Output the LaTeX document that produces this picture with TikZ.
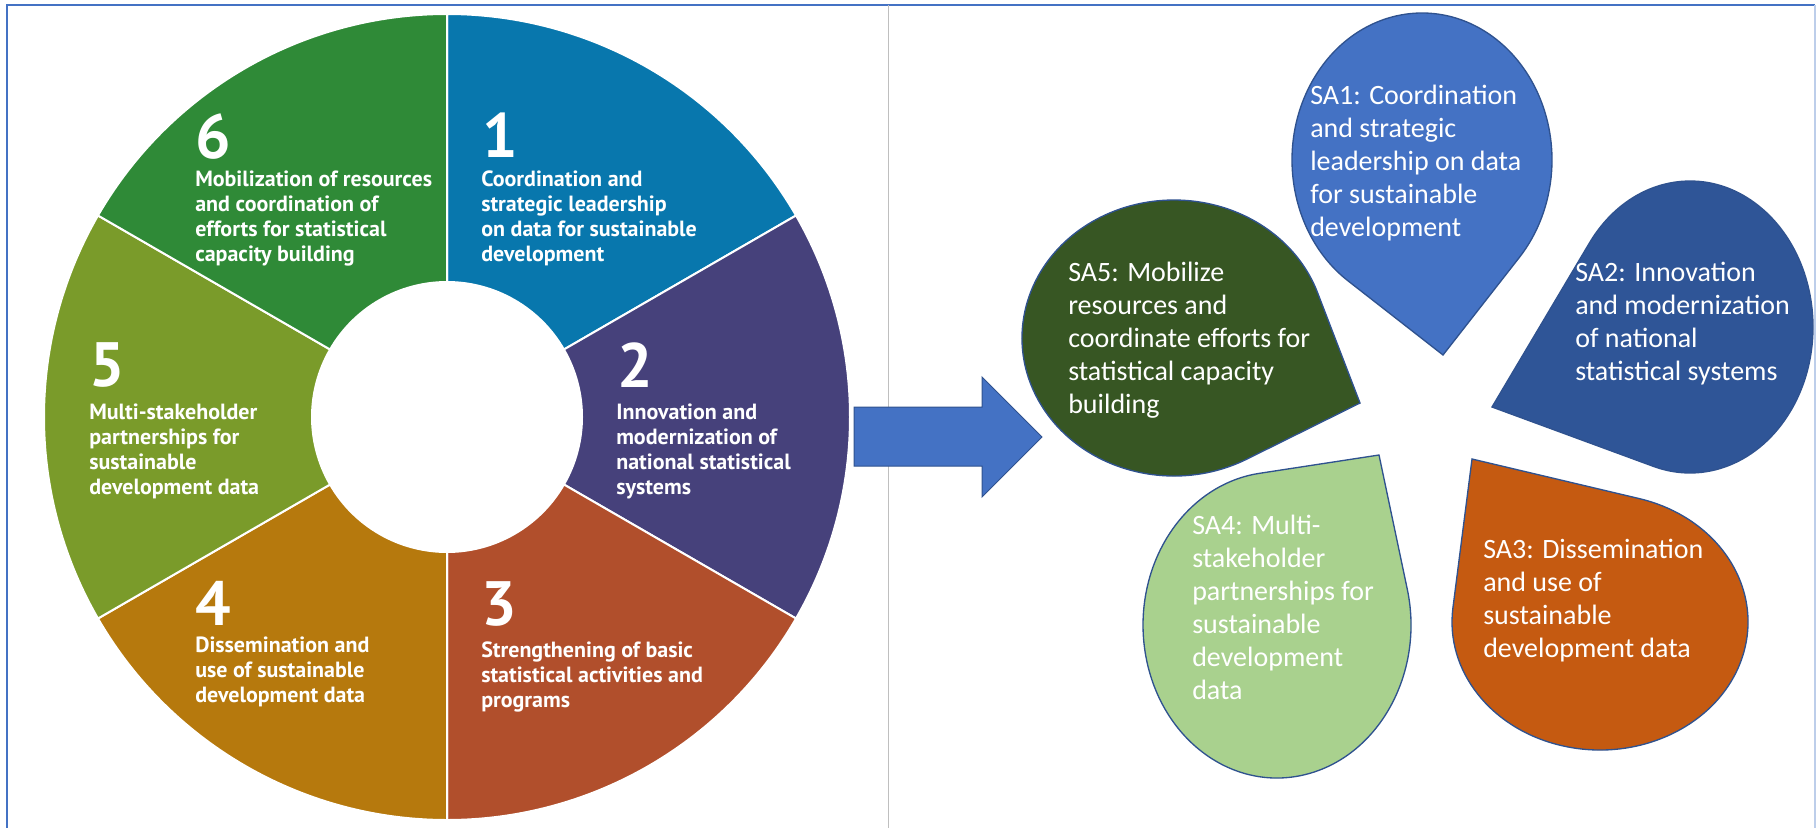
\documentclass[tikz,border=0pt]{standalone}
\usepackage{fontspec}
\setmainfont{Carlito}
\newfontfamily\ringfont{PT Sans}

\definecolor{seg1}{RGB}{8,119,173}
\definecolor{seg2}{RGB}{70,65,123}
\definecolor{seg3}{RGB}{177,79,44}
\definecolor{seg4}{RGB}{182,121,13}
\definecolor{seg5}{RGB}{122,155,42}
\definecolor{seg6}{RGB}{47,138,55}
\definecolor{sa1}{RGB}{68,114,196}
\definecolor{sa2}{RGB}{47,85,151}
\definecolor{sa3}{RGB}{197,90,17}
\definecolor{sa4}{RGB}{169,209,142}
\definecolor{sa5}{RGB}{55,86,35}
\definecolor{edge}{RGB}{47,82,143}
\definecolor{frame}{RGB}{68,114,196}

\begin{document}
\begin{tikzpicture}[x=0.75pt, y=-0.75pt,
    segnum/.style={anchor=north west, inner sep=0pt, text=white, font=\ringfont\bfseries\fontsize{47}{47}\selectfont},
    segtext/.style={anchor=north west, inner sep=0pt, text=white, align=left, font=\ringfont\bfseries\fontsize{16.5}{18.75}\selectfont},
    satext/.style={anchor=north west, inner sep=0pt, text=white, align=left, font=\fontsize{21}{24.75}\selectfont}]
  \useasboundingbox (0,0) rectangle (1817,828);
  % frame and divider
  \draw[frame, line width=1.5pt] (7,828) -- (7,5) -- (1815,5);
  \draw[frame!35, line width=1pt] (1815,5) -- (1815,828);
  \draw[black!25, line width=0.75pt] (888,5) -- (888,828);

  % ring of six segments
  \begin{scope}[shift={(447,417)}, yscale=-1]
    \foreach \k/\a in {1/30, 2/-30, 3/-90, 4/-150, 5/150, 6/90}
      \filldraw[fill=seg\k, draw=white, line width=1.5pt] (\a:403) arc[start angle=\a, end angle=\a+60, radius=403]
        -- (\a+60:135) arc[start angle=\a+60, end angle=\a, radius=135] -- cycle;
  \end{scope}

  \node[segnum] (n1) at (482,113) {1};
  \node[segnum] (n2) at (617,342) {2};
  \node[segnum] (n3) at (481,581) {3};
  \node[segnum] (n4) at (195,581) {4};
  \node[segnum] (n5) at (89,342) {5};
  \node[segnum] (n6) at (195,113) {6};
  \node[segtext] (t1) at (481,171) {Coordination and\\strategic leadership\\on data for sustainable\\development};
  \node[segtext] (t2) at (616,404) {Innovation and\\modernization of\\national statistical\\systems};
  \node[segtext] (t3) at (481,642) {Strengthening of basic\\statistical activities and\\programs};
  \node[segtext] (t4) at (195,637) {Dissemination and\\use of sustainable\\development data};
  \node[segtext] (t5) at (89,404) {Multi-stakeholder\\partnerships for\\sustainable\\development data};
  \node[segtext] (t6) at (195,171) {Mobilization of resources\\and coordination of\\efforts for statistical\\capacity building};

  % arrow
  \filldraw[fill=sa1, draw=edge, line width=0.75pt] (854,407) -- (982,407) -- (982,377) -- (1042,437)
    -- (982,497) -- (982,466) -- (854,466) -- cycle;

  % teardrops: centre, radii, tip
  \foreach \n/\cx/\cy/\rx/\ry/\tx/\ty in {sa1/1422/160/130/147/1443/355, sa2/1690/327/123/146/1492/407,
      sa3/1600/622/148/128/1472/459, sa4/1277/625/134/153/1379/455, sa5/1174/338/152/138/1360/403} {
    \pgfmathsetmacro\tipu{(\tx-\cx)/\rx}
    \pgfmathsetmacro\tipv{(\ty-\cy)/\ry}
    \pgfmathsetmacro\tipang{atan2(\tipv,\tipu)}
    \pgfmathsetmacro\tiphalf{acos(1/sqrt(\tipu*\tipu+\tipv*\tipv))}
    \filldraw[fill=\n, draw=edge, line width=1pt, shift={(\cx,\cy)}, xscale=\rx, yscale=\ry]
      (\tipu,\tipv) -- (\tipang+\tiphalf:1) arc[start angle=\tipang+\tiphalf, end angle=\tipang+360-\tiphalf, radius=1] -- cycle;
  }

  \node[satext] (sa1) at (1310,85) {SA1: Coordination\\and strategic\\leadership on data\\for sustainable\\development};
  \node[satext] (sa2) at (1575,262) {SA2: Innovation\\and modernization\\of national\\statistical systems};
  \node[satext] (sa3) at (1483,539) {SA3: Dissemination\\and use of\\sustainable\\development data};
  \node[satext] (sa4) at (1192,515) {SA4: Multi-\\stakeholder\\partnerships for\\sustainable\\development\\data};
  \node[satext] (sa5) at (1068,262) {SA5: Mobilize\\resources and\\coordinate efforts for\\statistical capacity\\building};
\end{tikzpicture}
\end{document}
